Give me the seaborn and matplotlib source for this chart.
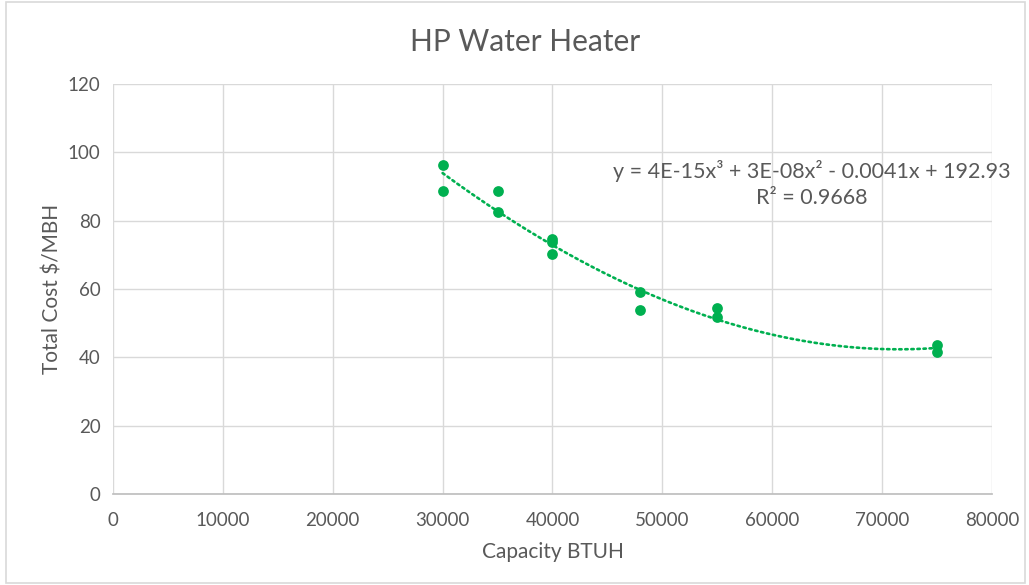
import numpy as np
import pandas as pd
import matplotlib
matplotlib.use("Agg")
import matplotlib.pyplot as plt
import seaborn as sns

# data
capacity = [30000, 30000, 35000, 35000, 40000, 40000, 40000, 48000, 48000, 55000, 55000, 75000, 75000]
cost = [96.3, 88.7, 88.7, 82.4, 74.6, 73.8, 70.1, 59.1, 53.8, 54.4, 51.8, 43.6, 41.6]
x_ticks = [0, 10000, 20000, 30000, 40000, 50000, 60000, 70000, 80000]
y_ticks = [0, 20, 40, 60, 80, 100, 120]
equation = "y = 4E-15x³ + 3E-08x² - 0.0041x + 192.93"
r_squared = "R² = 0.9668"

green = "#00B050"
grey_text = "#595959"
grid_col = "#D9D9D9"

sns.set_theme(style="white")
plt.rcParams['font.family'] = ['Lato', 'DejaVu Sans']

df = pd.DataFrame({"capacity": capacity, "cost": cost})

fig = plt.figure(figsize=(10.29, 5.85), dpi=100)
ax = fig.add_axes([0.1098, 0.1556, 0.8542, 0.7008])

# cubic trendline (as in the Excel chart)
coef = np.polyfit(df["capacity"], df["cost"], 3)
xs = np.linspace(df["capacity"].min(), df["capacity"].max(), 200)
ax.plot(xs, np.polyval(coef, xs), color=green, lw=1.9, linestyle=(0, (0.9, 1.4)),
        dash_capstyle="round", zorder=2)

sns.scatterplot(data=df, x="capacity", y="cost", color=green, s=60,
                edgecolor=green, linewidth=0, ax=ax, zorder=3)

ax.set_xlim(0, 80000)
ax.set_ylim(0, 120)
ax.set_xticks(x_ticks)
ax.set_yticks(y_ticks)
ax.grid(True, color=grid_col, lw=1)
ax.set_axisbelow(True)
for side in ["top", "right", "left"]:
    ax.spines[side].set_visible(False)
ax.spines["bottom"].set_color("#BFBFBF")
ax.tick_params(axis="both", length=0, labelsize=13.5, labelcolor=grey_text)
ax.tick_params(axis="x", pad=13)
ax.tick_params(axis="y", pad=9)

ax.set_xlabel("Capacity BTUH", fontsize=15, color=grey_text, labelpad=9)
ax.set_ylabel("Total Cost $/MBH", fontsize=15, color=grey_text, labelpad=4)
fig.text(0.51, 0.928, "HP Water Heater", ha="center", va="center", fontsize=21.5, color=grey_text)

ax.text(0.795, 0.787, equation, transform=ax.transAxes, ha="center", va="center",
        fontsize=15.5, color=grey_text)
ax.text(0.795, 0.722, r_squared, transform=ax.transAxes, ha="center", va="center",
        fontsize=15.5, color=grey_text)

# light border around the chart area
fig.patches.append(plt.Rectangle((0.006, 0.003), 0.99, 0.993, transform=fig.transFigure,
                                 fill=False, edgecolor=grid_col, lw=1.2))

fig.savefig("out.png", dpi=100)
